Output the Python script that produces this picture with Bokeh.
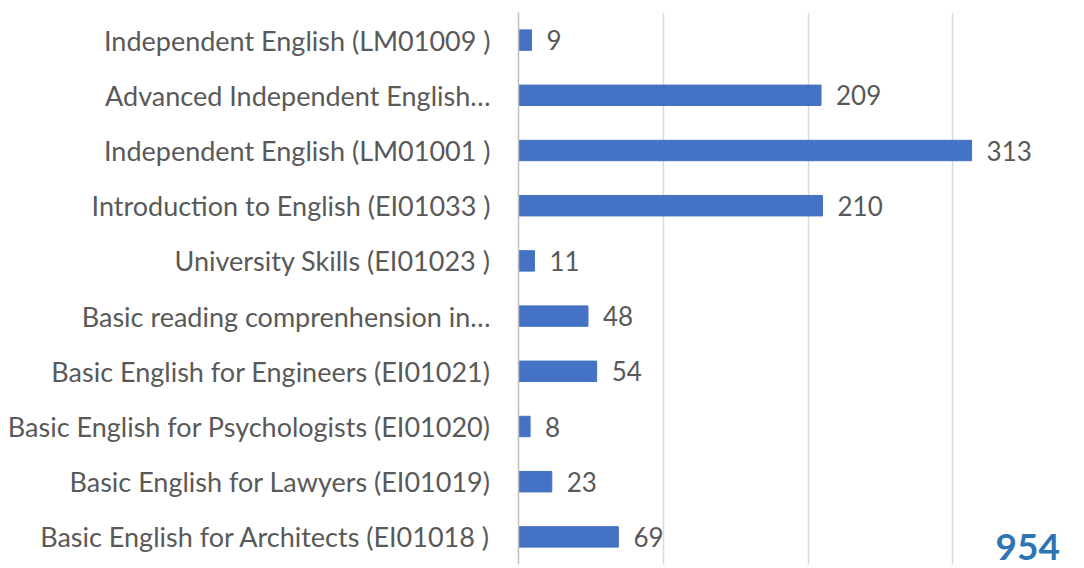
from bokeh.plotting import figure
from bokeh.models import ColumnDataSource, Label
from bokeh.core.properties import value
from bokeh.embed import file_html
from bokeh.resources import INLINE

courses = [
    "Basic English for Architects (EI01018 )",
    "Basic English for Lawyers (EI01019)",
    "Basic English for Psychologists (EI01020)",
    "Basic English for Engineers (EI01021)",
    "Basic reading comprenhension in…",
    "University Skills (EI01023 )",
    "Introduction to English (EI01033 )",
    "Independent English (LM01001 )",
    "Advanced Independent English…",
    "Independent English (LM01009 )",
]
students = [69, 23, 8, 54, 48, 11, 210, 313, 209, 9]
total = sum(students)

src = ColumnDataSource(dict(course=courses, n=students, lbl=[str(v) for v in students]))

p = figure(width=1084, height=568, y_range=courses, x_range=(0, 391),
           output_backend="svg", toolbar_location=None,
           min_border_left=518, min_border_right=0, min_border_top=12, min_border_bottom=4)
p.hbar(y="course", right="n", left=0, height=0.37, source=src, color="#4472C4")
p.text(x="n", y="course", text="lbl", source=src, x_offset=15, text_baseline="middle",
       text_font=value("Lato"), text_font_size="26px", text_color="#595959")

p.xaxis.visible = False
p.xgrid.grid_line_color = "#D9D9D9"
p.xgrid.grid_line_width = 1.5
p.xaxis.ticker = [0, 100, 200, 300]
p.ygrid.grid_line_color = None
p.outline_line_color = None

ya = p.yaxis[0]
ya.axis_line_color = "#BFBFBF"
ya.axis_line_width = 1.5
ya.major_tick_line_color = None
ya.minor_tick_line_color = None
ya.major_label_standoff = 22
ya.major_label_text_font = "Lato"
ya.major_label_text_font_size = "27px"
ya.major_label_text_color = "#595959"

p.add_layout(Label(x=374, y=0.08, text=str(total),
                   text_align="right", text_baseline="bottom", text_font="Lato",
                   text_font_size="37px", text_font_style="bold", text_color="#2E75B6"))

open("out.html", "w").write(file_html(p, INLINE))
